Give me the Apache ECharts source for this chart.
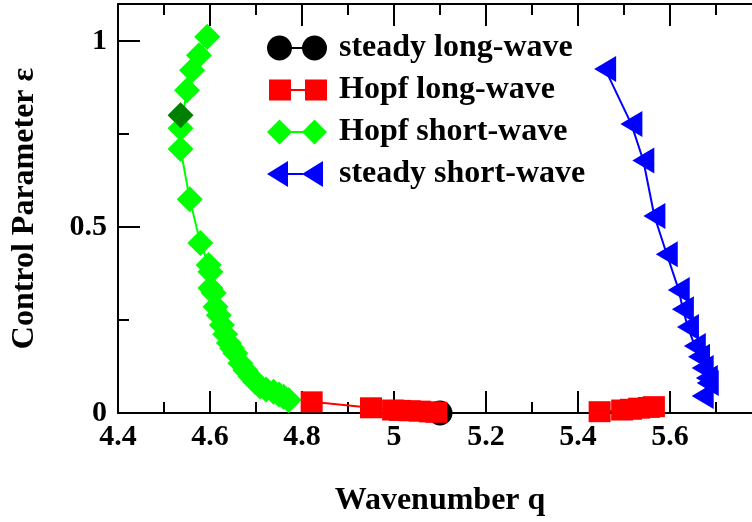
<!DOCTYPE html>
<html>
<head>
    <meta charset="utf-8">
    <script src="https://cdn.jsdelivr.net/npm/echarts@6/dist/echarts.min.js"></script>
    <style>
        html, body { margin: 0; padding: 0; background: #fff; }
    </style>
</head>
<body>
    <div id="main" style="width: 752px;height:522px"></div>

    <script type="text/javascript">
        // data
        var steadyLongQ = [5.1];
        var steadyLongEps = [0];

        var hopfLongQ1 = [4.821, 4.950, 4.998, 5.013, 5.034, 5.056, 5.078, 5.092];
        var hopfLongEps1 = [0.030, 0.014, 0.008, 0.007, 0.006, 0.005, 0.003, 0.002];
        var hopfLongQ2 = [5.447, 5.496, 5.515, 5.533, 5.554, 5.565];
        var hopfLongEps2 = [0.0035, 0.008, 0.010, 0.013, 0.015, 0.017];

        var hopfShortQ = [4.594, 4.576, 4.561, 4.550, 4.536, 4.536, 4.556, 4.579, 4.597, 4.601,
            4.601, 4.608, 4.612, 4.619, 4.626, 4.633, 4.641, 4.648, 4.655, 4.666,
            4.677, 4.688, 4.698, 4.709, 4.722, 4.738, 4.750, 4.760, 4.771];
        var hopfShortEps = [1.012, 0.962, 0.922, 0.868, 0.766, 0.710, 0.575, 0.457, 0.398, 0.380,
            0.336, 0.323, 0.286, 0.263, 0.237, 0.212, 0.188, 0.174, 0.161, 0.134,
            0.115, 0.098, 0.084, 0.071, 0.063, 0.057, 0.050, 0.044, 0.035];
        // the darker marked point
        var markedQ = [4.536];
        var markedEps = [0.801];

        var steadyShortQ = [5.459, 5.516, 5.542, 5.566, 5.593, 5.619, 5.628, 5.639, 5.654, 5.663,
            5.671, 5.680, 5.682, 5.671];
        var steadyShortEps = [0.925, 0.777, 0.679, 0.530, 0.427, 0.331, 0.279, 0.231, 0.180, 0.151,
            0.121, 0.094, 0.081, 0.046];

        var legendNames = ['steady long-wave', 'Hopf long-wave', 'Hopf short-wave', 'steady short-wave'];

        function pairs(xs, ys) {
            var out = [];
            for (var i = 0; i < xs.length; i++) out.push([xs[i], ys[i]]);
            return out;
        }

        var FONT = "'Liberation Serif', 'Times New Roman', serif";
        // legend icons: two markers joined by a line, in a 60x26 box
        var box = 'M0,0 L0.01,0 Z M60,26 L59.99,26 Z ';
        var iconCircle = 'path://' + box +
            'M0,13 A12.5,12.5 0 1 1 25,13 A12.5,12.5 0 1 1 0,13 Z ' +
            'M35,13 A12.5,12.5 0 1 1 60,13 A12.5,12.5 0 1 1 35,13 Z M24,12 L36,12 L36,14 L24,14 Z';
        var iconSquare = 'path://' + box +
            'M2,2.5 L24,2.5 L24,23.5 L2,23.5 Z M38,2.5 L60,2.5 L60,23.5 L38,23.5 Z M23,12 L39,12 L39,14 L23,14 Z';
        var iconDiamond = 'path://' + box +
            'M0,13 L12.5,0.5 L25,13 L12.5,25.5 Z M35,13 L47.5,0.5 L60,13 L47.5,25.5 Z M24,12 L36,12 L36,14 L24,14 Z';
        var iconTriangle = 'path://' + box +
            'M0,13 L21,0 L21,26 Z M35,13 L56,0 L56,26 Z M20,12 L36,12 L36,14 L20,14 Z';

        var axisBase = {
            type: 'value',
            min: 4.4,
            max: 5.8,
            interval: 0.2,
            axisLine: { onZero: false, lineStyle: { color: '#000', width: 2 } },
            axisTick: { inside: true, length: 22, lineStyle: { color: '#000', width: 2 } },
            minorTick: { show: true, splitNumber: 2, length: 11, lineStyle: { color: '#000', width: 2 } },
            splitLine: { show: false },
            minorSplitLine: { show: false }
        };

        var myChart = echarts.init(document.getElementById('main'));
        var option = {
            backgroundColor: '#fff',
            animation: false,
            grid: {
                left: 118, top: 4, right: -10, bottom: 109,
                outerBoundsMode: 'none'
            },
            legend: {
                orient: 'vertical',
                left: 267, top: 32,
                padding: 0,
                itemWidth: 60, itemHeight: 26,
                itemGap: 10,
                data: [
                    { name: legendNames[0], icon: iconCircle },
                    { name: legendNames[1], icon: iconSquare },
                    { name: legendNames[2], icon: iconDiamond },
                    { name: legendNames[3], icon: iconTriangle }
                ],
                textStyle: {
                    fontFamily: FONT, fontWeight: 'bold', fontSize: 32, color: '#000',
                    padding: [0, 0, 0, 7]
                }
            },
            xAxis: [
                Object.assign({}, axisBase, {
                    position: 'bottom',
                    name: 'Wavenumber q',
                    nameLocation: 'middle',
                    nameGap: 72,
                    nameTextStyle: { fontFamily: FONT, fontWeight: 'bold', fontSize: 32, color: '#000' },
                    axisLabel: {
                        margin: 9, showMaxLabel: false,
                        fontFamily: FONT, fontWeight: 'bold', fontSize: 30, color: '#000'
                    }
                }),
                Object.assign({}, axisBase, {
                    position: 'top',
                    axisLabel: { show: false }
                })
            ],
            yAxis: [
                {
                    type: 'value',
                    min: 0, max: 1.1, interval: 0.5,
                    position: 'left',
                    name: 'Control Parameter \u03b5',
                    nameLocation: 'middle',
                    nameRotate: 90,
                    nameGap: 77,
                    nameTextStyle: { fontFamily: FONT, fontWeight: 'bold', fontSize: 32, color: '#000' },
                    axisLine: { onZero: false, lineStyle: { color: '#000', width: 2 } },
                    axisTick: { inside: true, length: 22, lineStyle: { color: '#000', width: 2 } },
                    axisLabel: {
                        margin: 11, showMaxLabel: false,
                        fontFamily: FONT, fontWeight: 'bold', fontSize: 30, color: '#000'
                    },
                    splitLine: { show: false }
                },
                {
                    type: 'value',
                    min: 0, max: 1.1, interval: 0.25,
                    position: 'left',
                    axisLine: { show: false },
                    axisTick: { inside: true, length: 11, lineStyle: { color: '#000', width: 2 } },
                    axisLabel: { show: false },
                    splitLine: { show: false }
                }
            ],
            series: [{
                name: legendNames[0],
                type: 'line',
                data: pairs(steadyLongQ, steadyLongEps),
                symbol: 'circle',
                symbolSize: 25,
                itemStyle: { color: '#000' },
                lineStyle: { color: '#000', width: 2 },
                clip: false
            }, {
                name: legendNames[2],
                type: 'line',
                data: pairs(hopfShortQ, hopfShortEps),
                symbol: 'diamond',
                symbolSize: 26,
                itemStyle: { color: '#00ff00' },
                lineStyle: { color: '#00ff00', width: 2 },
                clip: false
            }, {
                name: 'marked',
                type: 'line',
                data: pairs(markedQ, markedEps),
                symbol: 'diamond',
                symbolSize: 26,
                itemStyle: { color: '#008000' },
                lineStyle: { width: 0 },
                clip: false
            }, {
                name: legendNames[1],
                type: 'line',
                data: pairs(hopfLongQ1, hopfLongEps1),
                symbol: 'rect',
                symbolSize: [22, 21],
                itemStyle: { color: '#ff0000' },
                lineStyle: { color: '#ff0000', width: 2 },
                clip: false
            }, {
                name: legendNames[1],
                type: 'line',
                data: pairs(hopfLongQ2, hopfLongEps2),
                symbol: 'rect',
                symbolSize: [22, 21],
                itemStyle: { color: '#ff0000' },
                lineStyle: { color: '#ff0000', width: 2 },
                clip: false
            }, {
                name: legendNames[3],
                type: 'line',
                data: pairs(steadyShortQ, steadyShortEps),
                symbol: 'triangle',
                symbolRotate: 90,
                symbolSize: [26, 22],
                itemStyle: { color: '#0000ff' },
                lineStyle: { color: '#0000ff', width: 2 },
                clip: false
            }]
        };

        myChart.setOption(option);
    </script>
</body>
</html>
